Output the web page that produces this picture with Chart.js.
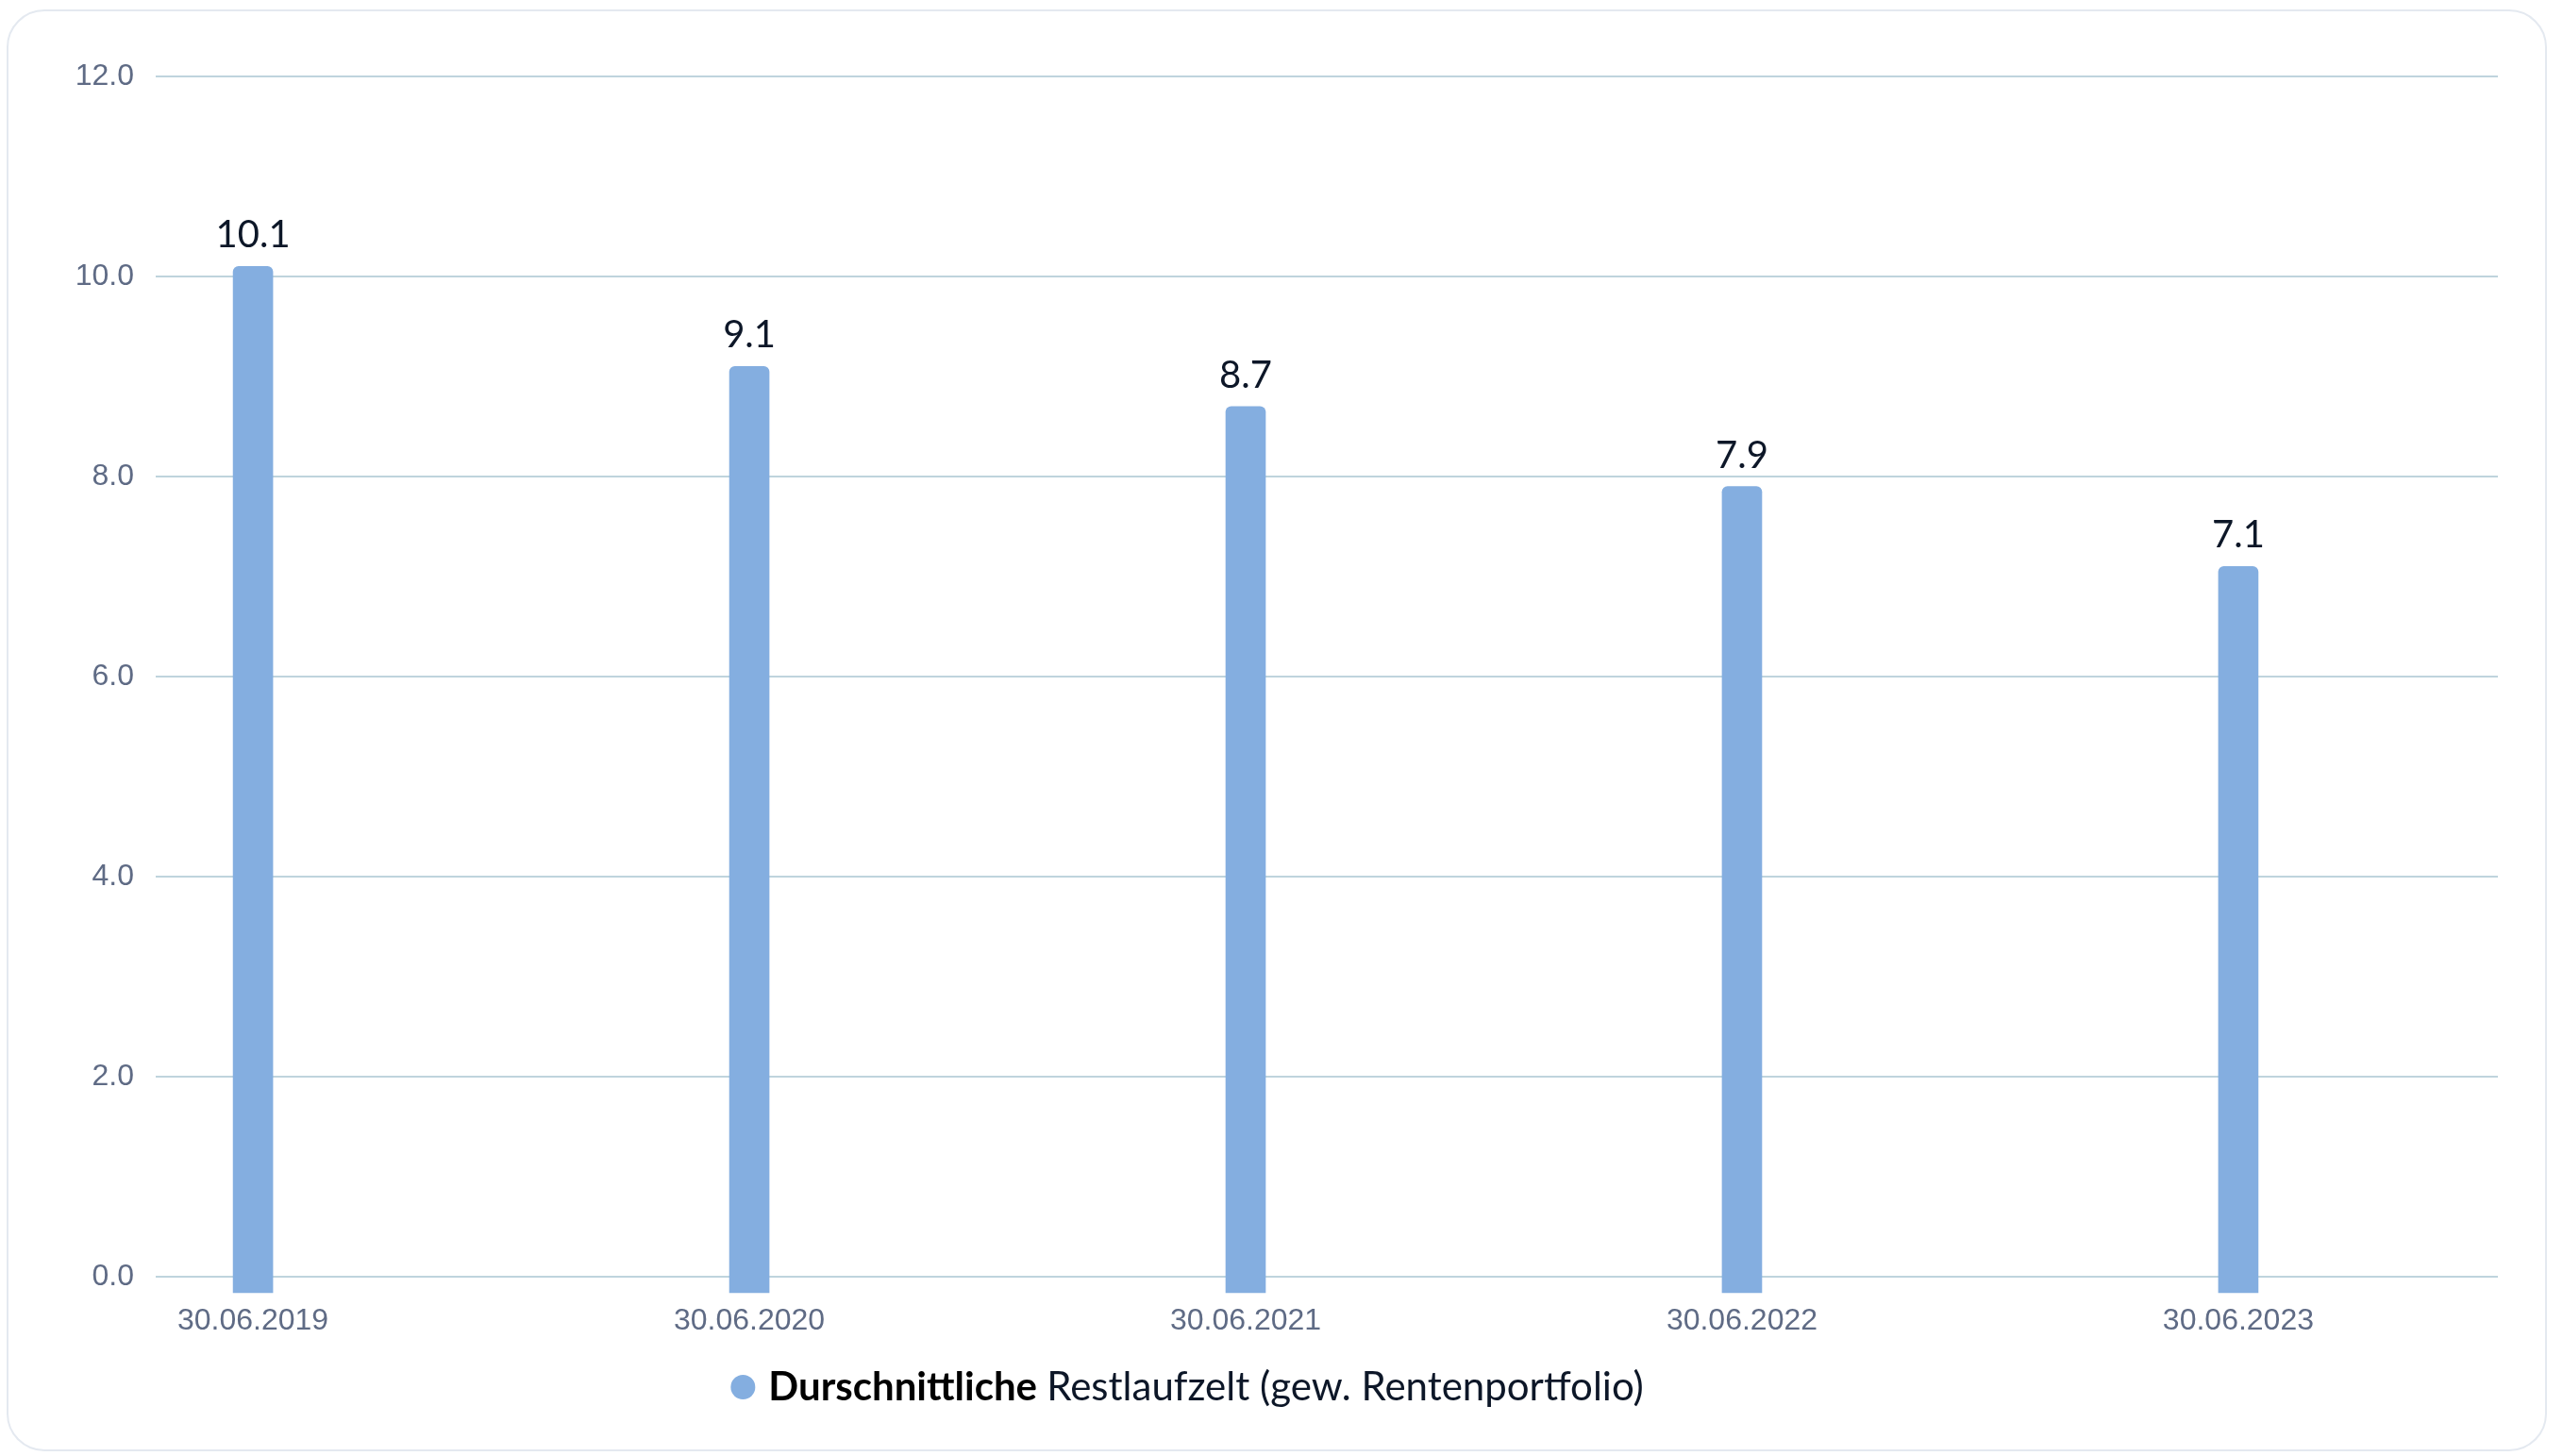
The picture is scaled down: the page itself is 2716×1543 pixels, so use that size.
<!DOCTYPE html>
<html>
<head>
<meta charset="utf-8">
<title>Durchschnittliche Restlaufzeit</title>
<script src="https://cdn.jsdelivr.net/npm/chart.js@4.4.0/dist/chart.umd.min.js"></script>
<style>
    html, body { margin: 0; padding: 0; background: #ffffff; }
    .card {
        position: absolute; left: 7px; top: 10px; width: 2692px; height: 1528px;
        border: 2px solid #e4e9f0; border-radius: 40px; box-sizing: border-box; background: #ffffff;
    }
    .wrap { position: absolute; left: 0; top: 0; width: 2716px; height: 1543px; }
</style>
</head>
<body>
<div class="card"></div>
<div class="wrap"><canvas id="restlaufzeitChart"></canvas></div>
<script>
// Chart data
const dates = ['30.06.2019', '30.06.2020', '30.06.2021', '30.06.2022', '30.06.2023'];
const restlaufzeit = [10.1, 9.1, 8.7, 7.9, 7.1];
const yTicks = [0, 2, 4, 6, 8, 10, 12];
const legendBold = 'Durschnittliche';
const legendRest = 'Restlaufzelt (gew. Rentenportfolio)';

const barColor = '#84aee0';
const tickColor = '#5f6b85';
const textColor = '#0d1728';

// Values above each bar
const valueLabels = {
    id: 'valueLabels',
    afterDatasetsDraw(chart) {
        const ctx = chart.ctx;
        const meta = chart.getDatasetMeta(0);
        ctx.save();
        ctx.font = '400 40px Lato';
        ctx.fillStyle = textColor;
        ctx.textAlign = 'center';
        ctx.textBaseline = 'alphabetic';
        meta.data.forEach((bar, i) => {
            ctx.fillText(restlaufzeit[i].toFixed(1), bar.x, bar.y - 20);
        });
        ctx.restore();
    }
};

// Legend with a bold first word
const mixedLegend = {
    id: 'mixedLegend',
    afterDraw(chart, args, opts) {
        const ctx = chart.ctx;
        ctx.save();
        ctx.textBaseline = 'middle';
        ctx.font = '700 42px Lato';
        const wBold = ctx.measureText(legendBold + ' ').width;
        ctx.font = '400 42px Lato';
        const wRest = ctx.measureText(legendRest).width;
        const total = opts.markerSize + opts.gap + wBold + wRest;
        let x = opts.centerX - total / 2;
        const y = opts.y;

        ctx.fillStyle = barColor;
        ctx.beginPath();
        ctx.arc(x + opts.markerSize / 2, y, opts.markerSize / 2, 0, Math.PI * 2);
        ctx.fill();
        x += opts.markerSize + opts.gap;

        ctx.textAlign = 'left';
        ctx.fillStyle = '#000000';
        ctx.font = '700 42px Lato';
        ctx.fillText(legendBold, x, y);
        x += wBold;
        ctx.fillStyle = textColor;
        ctx.font = '400 42px Lato';
        ctx.fillText(legendRest, x, y);
        ctx.restore();
    }
};

const ctx = document.getElementById('restlaufzeitChart').getContext('2d');
new Chart(ctx, {
    type: 'bar',
    data: {
        datasets: [{
            label: legendBold + ' ' + legendRest,
            data: restlaufzeit.map((v, i) => ({ x: i, y: v })),
            backgroundColor: barColor,
            barThickness: 42,
            borderRadius: { topLeft: 6, topRight: 6, bottomLeft: 0, bottomRight: 0 },
            borderSkipped: false,
            base: -0.16,
            clip: false
        }]
    },
    options: {
        responsive: true,
        maintainAspectRatio: false,
        animation: false,
        layout: { padding: { top: 81, right: 69, bottom: 0, left: 0 } },
        scales: {
            x: {
                type: 'linear',
                min: -0.196,
                max: 4.523,
                bounds: 'data',
                offset: false,
                grid: { display: false, drawTicks: false, offset: false },
                border: { display: false },
                afterBuildTicks: scale => { scale.ticks = dates.map((d, i) => ({ value: i })); },
                afterFit: scale => { scale.height = 190; },
                ticks: {
                    padding: 28,
                    color: tickColor,
                    font: { family: 'Liberation Sans', size: 32 },
                    maxRotation: 0,
                    callback: v => dates[v] ?? ''
                }
            },
            y: {
                min: 0,
                max: 12,
                grid: { color: '#bfd4dd', lineWidth: 2, drawTicks: false },
                border: { display: false },
                afterBuildTicks: scale => { scale.ticks = yTicks.map(v => ({ value: v })); },
                afterFit: scale => { scale.width = 165; },
                ticks: {
                    padding: 23,
                    color: tickColor,
                    font: { family: 'Liberation Sans', size: 32 },
                    callback: v => v.toFixed(1)
                }
            }
        },
        plugins: {
            legend: { display: false },
            tooltip: { enabled: false },
            mixedLegend: { centerX: 1258, y: 1470, markerSize: 26, gap: 14 }
        }
    },
    plugins: [valueLabels, mixedLegend]
});
</script>
</body>
</html>
